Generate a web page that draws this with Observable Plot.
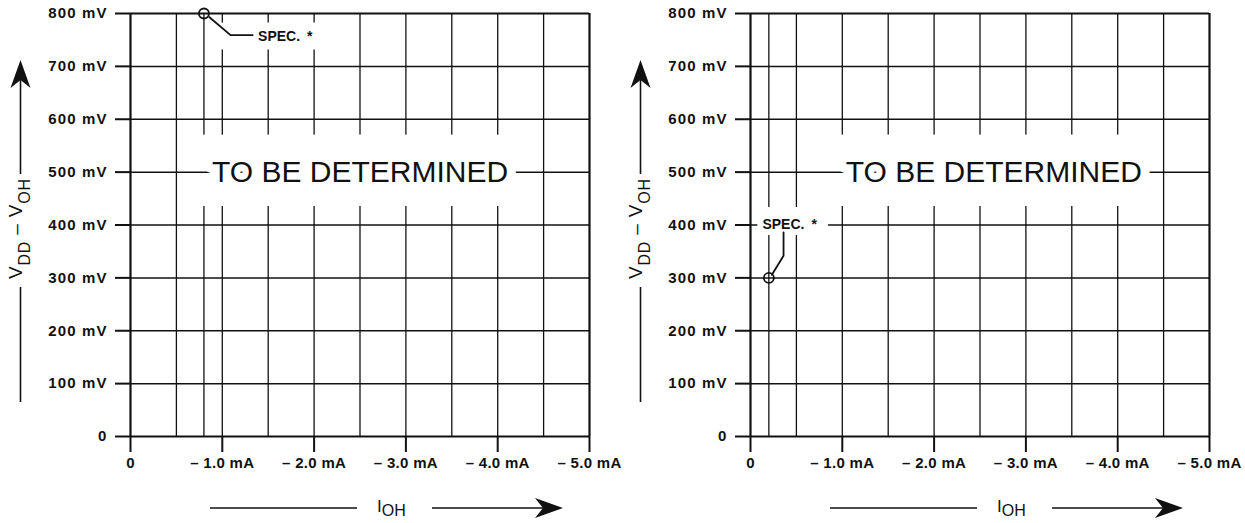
<!DOCTYPE html>
<html><head><meta charset="utf-8">
<script src="https://cdn.jsdelivr.net/npm/d3@7"></script>
<script src="https://cdn.jsdelivr.net/npm/@observablehq/plot@0.6"></script>
<style>
html,body{margin:0;padding:0;background:#fff;}
#wrap{display:flex;width:1245px;height:523px;overflow:hidden;background:#fff;}
#wrap svg{display:block;overflow:visible;}
</style></head><body><div id="wrap"></div>
<script>
// ---- data ----
const xTickValues = [0, 1, 2, 3, 4, 5];
const xTickLabels = ["0", "– 1.0 mA", "– 2.0 mA", "– 3.0 mA", "– 4.0 mA", "– 5.0 mA"];
const yTickValues = [0, 100, 200, 300, 400, 500, 600, 700, 800];
const yTickLabels = ["0", "100 mV", "200 mV", "300 mV", "400 mV", "500 mV", "600 mV", "700 mV", "800 mV"];
const gridXLeft = [0.5, 0.8, 1, 1.5, 2, 2.5, 3, 3.5, 4, 4.5];
const gridXRight = [0.2, 0.5, 1, 1.5, 2, 2.5, 3, 3.5, 4, 4.5];
const gridY = [100, 200, 300, 400, 500, 600, 700];
const frameX = [0, 5];
const frameY = [0, 800];
const specLeft = [{iOH: 0.8, v: 800}];
const specRight = [{iOH: 0.2, v: 300}];
const tbdLeft = [{iOH: 2.5, v: 500, label: "TO BE DETERMINED"}];
const tbdRight = [{iOH: 2.65, v: 500, label: "TO BE DETERMINED"}];
const specLabelLeft = [{iOH: 1.39, v: 757, label: "SPEC.\u2002*"}];
const specLabelRight = [{iOH: 0.13, v: 400, label: "SPEC.\u2002*"}];
const leaderLeft = [{iOH: 0.86, v: 793}, {iOH: 1.09, v: 759}, {iOH: 1.33, v: 759}];
const leaderRight = [{iOH: 0.233, v: 306}, {iOH: 0.36, v: 342}, {iOH: 0.36, v: 386}];
// breaks in the grid behind the annotations
const vGapsLeft = [{x1: 0.7, x2: 4.2, y1: 435, y2: 570}, {x1: 0.93, x2: 2.1, y1: 731, y2: 782}];
const vGapsRight = [{x1: 0.9, x2: 4.4, y1: 435, y2: 570}];
const labelBackLeft = [];
const labelBackRight = [{x1: 0.08, x2: 0.85, y1: 380, y2: 433}];

const INK = "#111";
const FONT = "Liberation Sans, Arial, Helvetica, sans-serif";
const xLabelOf = new Map(xTickValues.map((d, i) => [d, xTickLabels[i]]));
const yLabelOf = new Map(yTickValues.map((d, i) => [d, yTickLabels[i]]));

function arrowHead(g, tipX, tipY, dir) {
  const L = 28, W = 10, N = 8;
  let pts;
  if (dir === "up") pts = [[tipX, tipY], [tipX + W, tipY + L], [tipX, tipY + L - N], [tipX - W, tipY + L]];
  else pts = [[tipX, tipY], [tipX - L, tipY - W], [tipX - L + N, tipY], [tipX - L, tipY + W]];
  g.append("path").attr("d", "M" + pts.map(p => p.join(",")).join("L") + "Z").attr("fill", INK);
}

function panel({width, gridX, spec, tbd, specLabel, leader, vGaps, labelBack}) {
  const svg = Plot.plot({
    width, height: 523,
    marginTop: 13, marginBottom: 87, marginLeft: 130, marginRight: width - 589,
    x: {domain: [0, 5], axis: null},
    y: {domain: [0, 800], axis: null},
    style: {fontFamily: FONT, color: INK, background: "transparent", overflow: "visible"},
    marks: [
      Plot.ruleX(gridX, {stroke: INK, strokeWidth: 1.3}),
      Plot.ruleX(frameX, {stroke: INK, strokeWidth: 2.2}),
      Plot.rect(vGaps, {x1: "x1", x2: "x2", y1: "y1", y2: "y2", fill: "white"}),
      Plot.ruleY(gridY, {stroke: INK, strokeWidth: 1.5}),
      Plot.ruleY(frameY, {stroke: INK, strokeWidth: 2.2}),
      Plot.rect(labelBack, {x1: "x1", x2: "x2", y1: "y1", y2: "y2", fill: "white"}),
      Plot.axisY(yTickValues, {anchor: "left", tickSize: 15, tickPadding: 8, strokeWidth: 2, stroke: INK,
        fill: INK, fontSize: 15, fontWeight: "bold", tickFormat: d => yLabelOf.get(d)}),
      Plot.axisX(xTickValues, {anchor: "bottom", tickSize: 16, tickPadding: 5, strokeWidth: 2, stroke: INK,
        fill: INK, fontSize: 15, fontWeight: "bold", tickFormat: d => xLabelOf.get(d)}),
      Plot.line(leader, {x: "iOH", y: "v", stroke: INK, strokeWidth: 1.8}),
      Plot.dot(spec, {x: "iOH", y: "v", r: 5, stroke: INK, strokeWidth: 1.8, fill: "none"}),
      Plot.text(specLabel, {x: "iOH", y: "v", text: "label", textAnchor: "start", fontSize: 14, fontWeight: "bold", fill: INK}),
      Plot.text(tbd, {x: "iOH", y: "v", text: "label", textAnchor: "middle", fontSize: 30, fill: INK,
        stroke: "white", strokeWidth: 18, paintOrder: "stroke", strokeLinejoin: "round"})
    ]
  });
  const s = d3.select(svg);
  s.selectAll('[aria-label="y-axis tick label"] text').attr("letter-spacing", "1.1px");
  s.selectAll('[aria-label="x-axis tick label"] text').attr("letter-spacing", "0.3px");
  const g = s.append("g").attr("fill", INK).attr("font-family", FONT).attr("text-anchor", "start");
  // y axis title
  g.append("line").attr("x1", 20.5).attr("x2", 20.5).attr("y1", 287).attr("y2", 402).attr("stroke", INK).attr("stroke-width", 1.6);
  g.append("line").attr("x1", 20.5).attr("x2", 20.5).attr("y1", 174).attr("y2", 75).attr("stroke", INK).attr("stroke-width", 1.6);
  arrowHead(g, 20.5, 60, "up");
  const yt = g.append("text").attr("transform", "translate(22,279) rotate(-90)").attr("font-size", 19).attr("letter-spacing", "0.8px");
  yt.append("tspan").text("V");
  yt.append("tspan").attr("font-size", 16).attr("dy", 8).text("DD");
  yt.append("tspan").attr("dy", -8).text(" – V");
  yt.append("tspan").attr("font-size", 16).attr("dy", 8).text("OH");
  // x axis title
  g.append("line").attr("x1", 210).attr("x2", 357).attr("y1", 508).attr("y2", 508).attr("stroke", INK).attr("stroke-width", 1.6);
  g.append("line").attr("x1", 432).attr("x2", 550).attr("y1", 508).attr("y2", 508).attr("stroke", INK).attr("stroke-width", 1.6);
  arrowHead(g, 563, 508, "right");
  const xt = g.append("text").attr("x", 377).attr("y", 512).attr("font-size", 17);
  xt.append("tspan").text("I");
  xt.append("tspan").attr("font-size", 16).attr("dy", 4).text("OH");
  return svg;
}

const wrap = document.getElementById("wrap");
wrap.append(panel({width: 620, gridX: gridXLeft, spec: specLeft, tbd: tbdLeft, specLabel: specLabelLeft, leader: leaderLeft, vGaps: vGapsLeft, labelBack: labelBackLeft}));
wrap.append(panel({width: 625, gridX: gridXRight, spec: specRight, tbd: tbdRight, specLabel: specLabelRight, leader: leaderRight, vGaps: vGapsRight, labelBack: labelBackRight}));
</script></body></html>
